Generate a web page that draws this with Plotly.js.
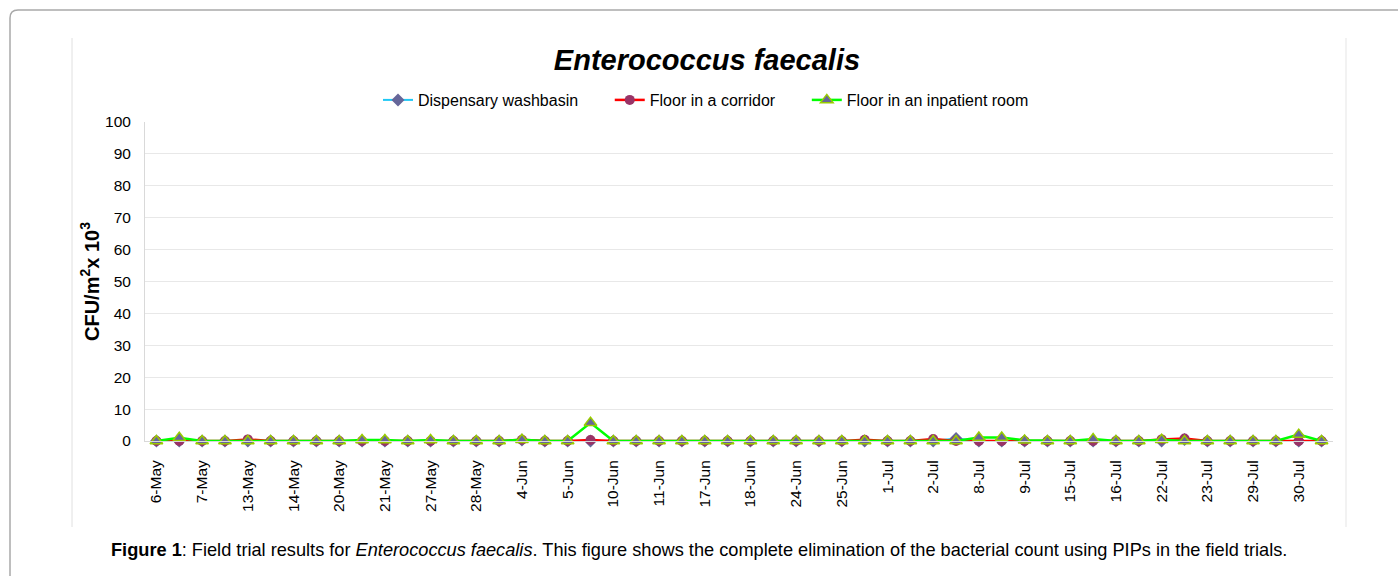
<!DOCTYPE html>
<html>
<head>
<meta charset="utf-8">
<script src="https://cdn.plot.ly/plotly-3.0.1.min.js"></script>
<style>
  html, body { margin: 0; padding: 0; background: #ffffff; }
  #chart { width: 1398px; height: 576px; }
</style>
</head>
<body>
<div id="chart"></div>
<script>
// Tick labels shown on the category axis (every second sampling point is labelled)
const tickLabels = ["6-May","7-May","13-May","14-May","20-May","21-May","27-May","28-May",
  "4-Jun","5-Jun","10-Jun","11-Jun","17-Jun","18-Jun","24-Jun","25-Jun",
  "1-Jul","2-Jul","8-Jul","9-Jul","15-Jul","16-Jul","22-Jul","23-Jul","29-Jul","30-Jul"];

// Series values (CFU/m² x 10³), 52 sampling points
const dispensaryWashbasin = [0,0,0,0,0,0,0,0,0,0, 0,0,0,0,0,0,0.3,0,0,0, 0,0,0,0,0,0,0,0,0,0,
  0,0,0,0,0,0.8,0,0,0,0, 0,0,0,0,0,0.5,0,0,0,0, 0,0];
const floorCorridor = [0,0,0,0,0.5,0,0,0,0,0, 0,0,0,0,0,0,0.4,0,0,0.3, 0,0,0,0,0,0,0,0,0,0,
  0,0.4,0,0,0.6,0,0,0,0,0, 0,0,0,0,0.5,0.8,0,0,0,0, 0,0];
const floorInpatient = [0,1.0,0,0,0,0,0,0,0,0.3, 0.3,0,0.3,0,0,0,0.4,0,0,5.7, 0,0,0,0,0,0,0,0,0,0,
  0,0,0,0,0,0,1.1,1.1,0.2,0, 0,0.6,0,0,0.4,0,0,0,0,0, 2.0,0];

const seriesNames = ["Dispensary washbasin", "Floor in a corridor", "Floor in an inpatient room"];
const yTicks = [0,10,20,30,40,50,60,70,80,90,100];

const xIdx = dispensaryWashbasin.map((_, i) => i);
const tickVals = tickLabels.map((_, k) => 2 * k);

// pixel -> paper helpers (plot area: x 145..1333, y 122..441)
const L = 145, R = 1333, T = 122, B = 441;
const px = v => (v - L) / (R - L);
const py = v => (B - v) / (B - T);

// trailing non-breaking spaces widen the gap between legend entries
const pad = "\u00a0".repeat(6);

const traces = [
  {
    x: xIdx, y: dispensaryWashbasin, name: seriesNames[0] + pad, type: "scatter", mode: "lines+markers",
    line: { color: "#1fc8f5", width: 2 },
    marker: { symbol: "diamond", size: 10, color: "#666699" },
    cliponaxis: false
  },
  {
    x: xIdx, y: floorCorridor, name: seriesNames[1] + pad, type: "scatter", mode: "lines+markers",
    line: { color: "#ff0000", width: 2.5 },
    marker: { symbol: "circle", size: 10, color: "#993366" },
    cliponaxis: false
  },
  {
    x: xIdx, y: floorInpatient, name: seriesNames[2], type: "scatter", mode: "lines+markers",
    line: { color: "#00ff00", width: 2.5 },
    marker: { symbol: "triangle-up", size: 11, color: "#666699", line: { color: "#99cc00", width: 1.5 } },
    cliponaxis: false
  }
];

function roundedFramePath() {
  const x0 = px(10), y0 = py(10), r = 8;
  const xr = px(10 + r), yr = py(10 + r);
  return `M ${x0} ${py(600)} L ${x0} ${yr} Q ${x0} ${y0} ${xr} ${y0} L ${px(1420)} ${y0}`;
}

const layout = {
  width: 1398, height: 576,
  paper_bgcolor: "rgba(0,0,0,0)",
  plot_bgcolor: "rgba(0,0,0,0)",
  font: { family: "Liberation Sans, Arial, sans-serif", color: "#000", size: 15 },
  margin: { l: L, r: 1398 - R, t: T, b: 576 - B, pad: 0 },
  title: {
    text: "<b><i>Enterococcus faecalis</i></b>",
    font: { size: 29, color: "#000" },
    xref: "container", yref: "container",
    x: 707 / 1398, xanchor: "center",
    y: 1 - 60 / 576, yanchor: "middle"
  },
  showlegend: true,
  legend: {
    orientation: "h",
    x: px(706), xanchor: "center",
    y: py(100), yanchor: "middle",
    font: { size: 16, color: "#000" },
    bgcolor: "rgba(0,0,0,0)"
  },
  xaxis: {
    range: [-0.5, 51.5],
    tickmode: "array",
    tickvals: tickVals,
    ticktext: tickLabels,
    tickangle: -90,
    tickfont: { size: 15.5, color: "#000" },
    showgrid: false,
    zeroline: false,
    showline: true,
    linecolor: "#d9d9d9",
    linewidth: 1,
    ticks: "",
    ticklabelstandoff: 12
  },
  yaxis: {
    range: [0, 100],
    tickmode: "array",
    tickvals: yTicks,
    tickfont: { size: 15.5, color: "#000" },
    showgrid: true,
    gridcolor: "#e8e8e8",
    gridwidth: 1,
    zeroline: false,
    showline: true,
    linecolor: "#d9d9d9",
    linewidth: 1,
    ticks: "",
    ticklabelstandoff: 10,
    title: {
      text: "<b>CFU/m<sup>2</sup>x 10<sup>3</sup></b>",
      font: { size: 20, color: "#000" },
      standoff: 0
    }
  },
  shapes: [
    { type: "path", xref: "paper", yref: "paper", path: roundedFramePath(),
      line: { color: "#a9a9a9", width: 1.5 }, layer: "below" },
    { type: "line", xref: "paper", yref: "paper", x0: px(72), x1: px(72), y0: py(38), y1: py(527),
      line: { color: "#e0e0e0", width: 1 }, layer: "below" },
    { type: "line", xref: "paper", yref: "paper", x0: px(1346), x1: px(1346), y0: py(38), y1: py(527),
      line: { color: "#eeeeee", width: 1.5 }, layer: "below" }
  ],
  annotations: [
    {
      xref: "paper", yref: "paper",
      x: px(698.5), y: py(550), xanchor: "center", yanchor: "middle",
      showarrow: false,
      text: "<b>Figure 1</b>: Field trial results for <i>Enterococcus faecalis</i>. This figure shows the complete elimination of the bacterial count using PIPs in the field trials.",
      font: { size: 18.2, color: "#000" }
    }
  ]
};

Plotly.newPlot("chart", traces, layout, { displayModeBar: false, staticPlot: true });
</script>
</body>
</html>
